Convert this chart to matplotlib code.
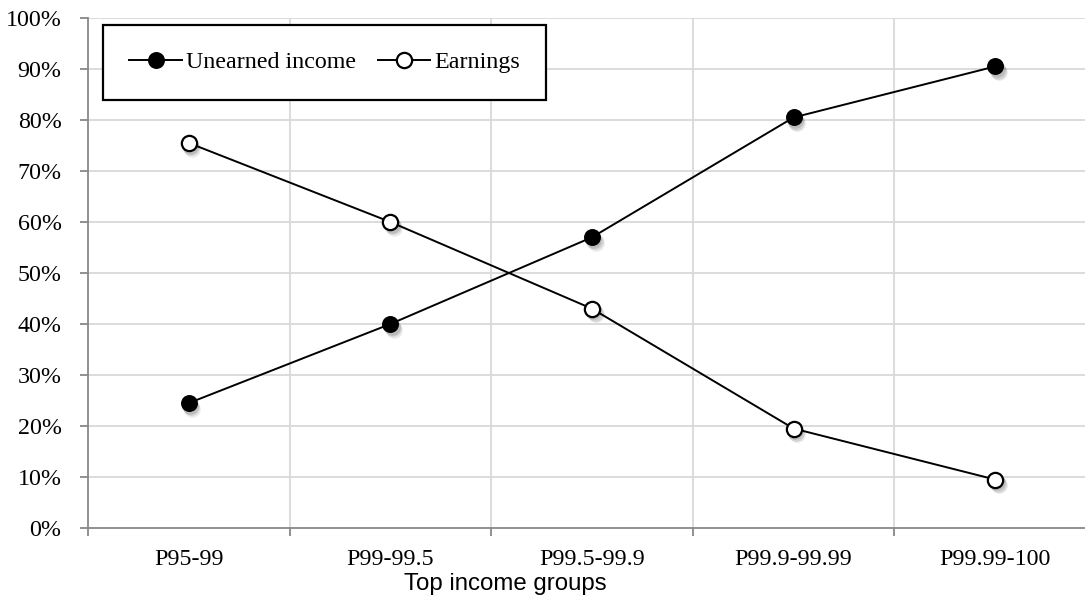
import matplotlib
matplotlib.use("Agg")
import matplotlib.pyplot as plt
import matplotlib.transforms as mtransforms

groups = ["P95-99", "P99-99.5", "P99.5-99.9", "P99.9-99.99", "P99.99-100"]
unearned = [24.5, 40.0, 57.0, 80.5, 90.5]
earnings = [75.5, 60.0, 43.0, 19.5, 9.5]
yticks = list(range(0, 101, 10))

plt.rcParams["font.family"] = ["Liberation Serif", "DejaVu Serif"]
FS = 17.3

fig = plt.figure(figsize=(10.85, 5.96), dpi=100)
W, H = 1085, 596
ax = fig.add_axes([88 / W, 1 - 528 / H, 1008 / W, 510 / H])

x = list(range(len(groups)))

# grid and axes
for b in [i + 0.5 for i in range(len(groups))]:
    ax.axvline(b, color="#d9d9d9", lw=1.3, zorder=0)
for t in yticks[1:]:
    ax.axhline(t, color="#d9d9d9", lw=1.3, zorder=0)

ax.set_xlim(-0.5, len(groups) - 0.5)
ax.set_ylim(0, 100)
ax.set_yticks(yticks)
ax.set_yticklabels([f"{t}%" for t in yticks])
ax.set_xticks(x)
ax.set_xticklabels(groups)
ax.set_xticks([i - 0.5 for i in range(len(groups) + 1)], minor=True)
ax.tick_params(axis="x", which="major", length=0, pad=15, labelsize=FS)
ax.tick_params(axis="x", which="minor", length=6, color="#888888", width=1.3)
ax.tick_params(axis="y", length=6, color="#888888", width=1.3, labelsize=FS, pad=13)
for s in ["top", "right"]:
    ax.spines[s].set_visible(False)
for s in ["left", "bottom"]:
    ax.spines[s].set_color("#888888")
    ax.spines[s].set_linewidth(1.3)

# marker shadows
for dx, dy, a in [(1.0, -2.0, 0.10), (1.8, -3.0, 0.10), (2.6, -4.0, 0.08)]:
    tr = mtransforms.offset_copy(ax.transData, fig=fig, x=dx, y=dy, units="points")
    for ys in (unearned, earnings):
        ax.plot(x, ys, ls="none", marker="o", ms=12, mfc="black", mec="none",
                alpha=a, transform=tr, zorder=2)

ax.plot(x, unearned, color="black", lw=1.4, marker="o", ms=11, mfc="black",
        mec="black", mew=1.2, label="Unearned income", zorder=3)
ax.plot(x, earnings, color="black", lw=1.4, marker="o", ms=11, mfc="white",
        mec="black", mew=1.6, label="Earnings", zorder=3)

leg = ax.legend(loc="upper left", bbox_to_anchor=(0.0149, 0.986), ncol=2,
                fontsize=FS, frameon=True, fancybox=False, borderaxespad=0,
                handlelength=2.2, handletextpad=0.15, columnspacing=0.9,
                borderpad=1.1)
leg.get_frame().set_edgecolor("black")
leg.get_frame().set_linewidth(1.6)
leg.get_frame().set_alpha(1)

fig.text(505 / W, 1 - 584 / H, "Top income groups", ha="center", va="center",
         fontsize=FS, family=["Liberation Sans", "DejaVu Sans"])

fig.savefig("out.png", dpi=100)
